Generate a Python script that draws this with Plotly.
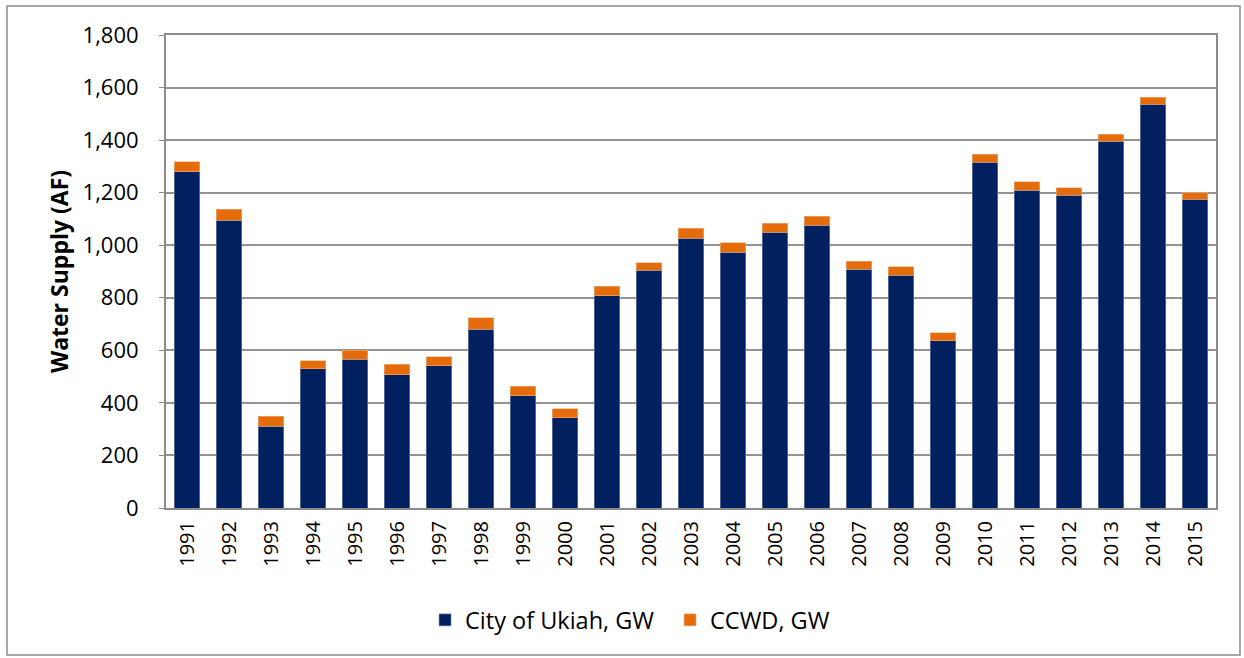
import plotly.graph_objects as go

years = [str(y) for y in range(1991, 2016)]
ukiah = [1280, 1095, 312, 529, 567, 508, 541, 681, 428, 343, 808, 905, 1027, 974, 1050, 1076, 908, 886, 636, 1316, 1209, 1190, 1395, 1536, 1175]
ccwd = [38, 42, 37, 32, 34, 39, 35, 43, 35, 34, 35, 29, 38, 35, 34, 34, 31, 33, 31, 30, 32, 28, 28, 28, 25]
y_ticks = [0, 200, 400, 600, 800, 1000, 1200, 1400, 1600, 1800]
y_ticktext = ["0", "200", "400", "600", "800", "1,000", "1,200", "1,400", "1,600", "1,800"]

FONT = "Open Sans"

fig = go.Figure()
fig.add_trace(go.Bar(x=years, y=ukiah, name="City of Ukiah, GW",
                     marker=dict(color="#002060", line=dict(color="#8090b0", width=0.6))))
fig.add_trace(go.Bar(x=years, y=ccwd, name="CCWD, GW",
                     marker=dict(color="#E46C0A", line=dict(color="#f0b080", width=0.6))))

fig.update_layout(
    barmode="stack",
    bargap=0.4,
    width=1244, height=658,
    margin=dict(l=166, r=28, t=35, b=150),
    paper_bgcolor="white", plot_bgcolor="white",
    font=dict(family=FONT, color="black"),
    showlegend=True,
    legend=dict(orientation="h", x=0.2467, xanchor="left", y=-0.237, yanchor="middle",
                font=dict(size=23.5, family=FONT), traceorder="normal", itemwidth=30,
                entrywidth=200, entrywidthmode="pixels"),
    xaxis=dict(type="category", tickangle=-90, tickfont=dict(size=20, family=FONT),
               showline=True, linecolor="#8c8c8c", linewidth=2, mirror=True,
               ticks="", showgrid=False, ticklabelstandoff=3),
    yaxis=dict(range=[0, 1800], tickvals=y_ticks, ticktext=y_ticktext,
               tickfont=dict(size=22, family=FONT),
               showgrid=True, gridcolor="#949494", gridwidth=1.5,
               showline=True, linecolor="#8c8c8c", linewidth=2, mirror=True,
               ticks="outside", ticklen=5, tickcolor="#8c8c8c", ticklabelstandoff=16,
               title=dict(text="<b>Water Supply (AF)</b>", font=dict(size=23, family=FONT), standoff=8)),
    shapes=[dict(type="rect", xref="paper", yref="paper",
                 x0=(7 - 166) / 1050, x1=(1240 - 166) / 1050,
                 y0=(508 - 655) / 473, y1=(508 - 6) / 473,
                 line=dict(color="#8c8c8c", width=1.5), fillcolor="rgba(0,0,0,0)", layer="below")],
)

fig.write_html("out.html", config={"displayModeBar": False},
               post_script="document.body.style.margin='0';document.body.style.overflow='hidden';")
